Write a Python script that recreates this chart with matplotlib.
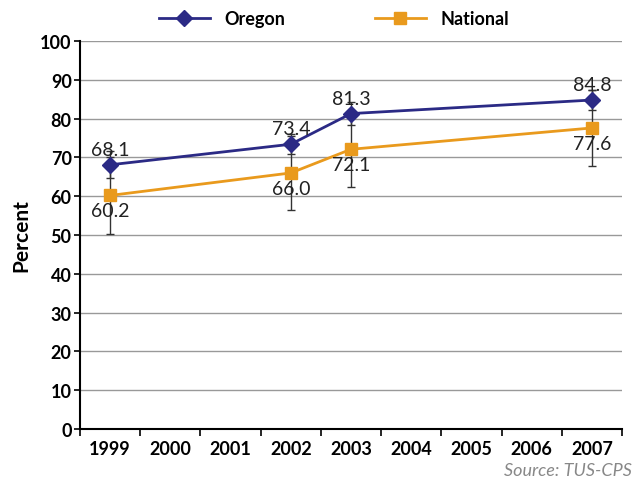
import numpy as np
import matplotlib.pyplot as plt

plt.rcParams['font.family'] = ['Lato', 'DejaVu Sans']

years = ["1999", "2000", "2001", "2002", "2003", "2004", "2005", "2006", "2007"]
data_years = ["1999", "2002", "2003", "2007"]
oregon = [68.1, 73.4, 81.3, 84.8]
oregon_err = [3.5, 2.6, 2.9, 2.5]
national = [60.2, 66.0, 72.1, 77.6]
national_err = [10.0, 9.5, 9.8, 9.9]

navy = "#2b2a85"
orange = "#e99a1d"

fig = plt.figure(figsize=(6.42, 4.89), dpi=100)
ax = fig.add_axes([0.1246, 0.1207, 0.8444, 0.7933])

xpos = [years.index(y) for y in data_years]

# error bars behind the lines
ax.errorbar(xpos, oregon, yerr=oregon_err, fmt="none", ecolor="#333333",
            elinewidth=1, capsize=3, capthick=1, zorder=2)
ax.errorbar(xpos, national, yerr=national_err, fmt="none", ecolor="#333333",
            elinewidth=1, capsize=3, capthick=1, zorder=2)

ax.plot(xpos, oregon, color=navy, lw=2, marker="D", ms=8, label="Oregon", zorder=3)
ax.plot(xpos, national, color=orange, lw=2, marker="s", ms=8, label="National", zorder=3)

for x, v in zip(xpos, oregon):
    ax.text(x, v + 1.8, f"{v:.1f}", ha="center", va="bottom", fontsize=14, color="#222222")
for x, v in zip(xpos, national):
    ax.text(x, v - 1.8, f"{v:.1f}", ha="center", va="top", fontsize=14, color="#222222")

ax.set_xlim(-0.5, len(years) - 0.5)
ax.set_ylim(0, 100)
ax.set_yticks(np.arange(0, 101, 10))
ax.set_yticklabels([str(v) for v in range(0, 101, 10)], fontsize=13, fontweight="bold")

ax.set_xticks(np.arange(len(years) + 1) - 0.5)
ax.set_xticklabels([])
ax.set_xticks(np.arange(len(years)), minor=True)
ax.set_xticklabels(years, minor=True, fontsize=13, fontweight="bold")
ax.tick_params(axis="x", which="minor", length=0, pad=8)
ax.tick_params(axis="x", which="major", length=5, width=1.2, direction="out")
ax.tick_params(axis="y", length=4, width=1.2, pad=2)

ax.yaxis.grid(True, color="#999999", lw=1)
ax.set_axisbelow(True)
for s in ["top", "right"]:
    ax.spines[s].set_visible(False)
for s in ["left", "bottom"]:
    ax.spines[s].set_linewidth(1.5)

ax.set_ylabel("Percent", fontsize=15, fontweight="bold", labelpad=6)

fig.legend(loc="upper center", bbox_to_anchor=(0.52, 1.01), ncol=2, frameon=False,
           prop={"size": 13, "weight": "bold"}, columnspacing=5, handlelength=2.8)

fig.text(0.985, 0.02, "Source: TUS-CPS", ha="right", va="bottom", fontsize=13,
         style="italic", color="#888888")

fig.savefig("out.png", dpi=100)
